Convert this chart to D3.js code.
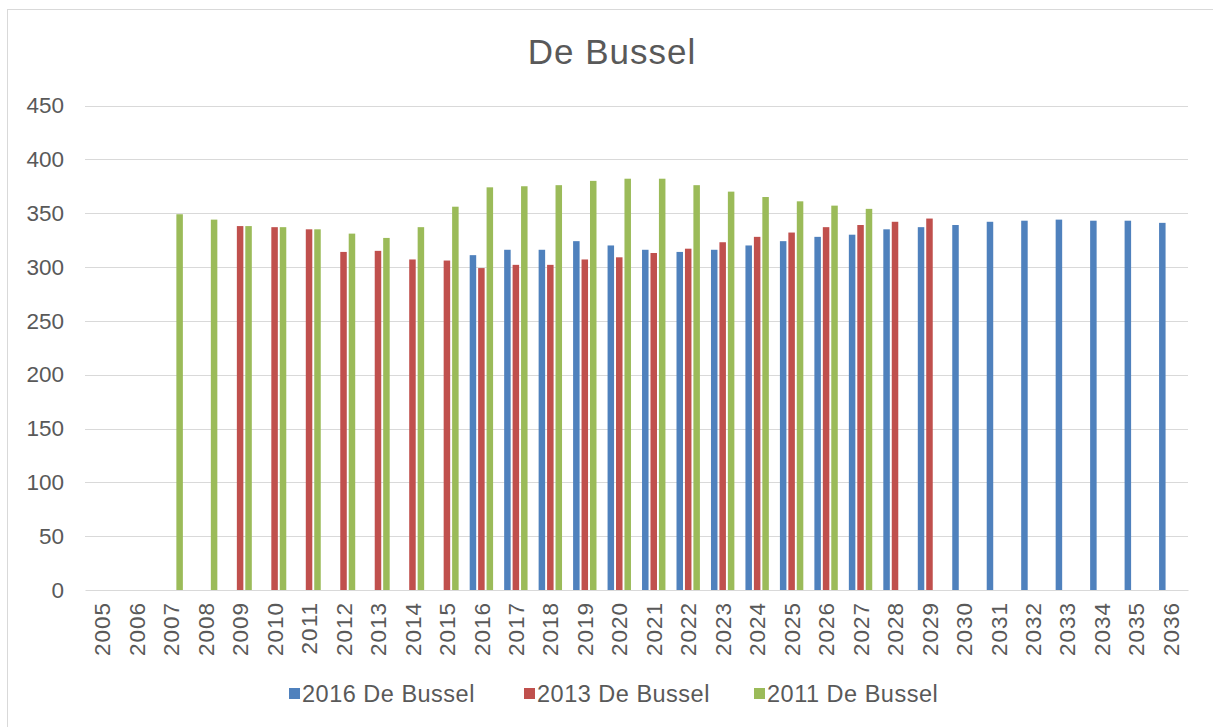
<!DOCTYPE html>
<html>
<head>
<meta charset="utf-8">
<script src="https://cdn.jsdelivr.net/npm/d3@7"></script>
<style>
  html, body { margin: 0; padding: 0; background: #fff; }
  svg { display: block; }
  text { font-family: "Liberation Sans", Arial, sans-serif; fill: #595959; }
</style>
</head>
<body>
<svg id="chart" width="1213" height="727"></svg>
<script>
const categories = ["2005","2006","2007","2008","2009","2010","2011","2012","2013","2014","2015","2016","2017","2018","2019","2020","2021","2022","2023","2024","2025","2026","2027","2028","2029","2030","2031","2032","2033","2034","2035","2036"];
const seriesNames = ["2016 De Bussel", "2013 De Bussel", "2011 De Bussel"];
const seriesColors = ["#4f81bd", "#c0504d", "#9bbb59"];
const values2016 = [null,null,null,null,null,null,null,null,null,null,null,311,316,316,324,320,316,314,316,320,324,328,330,335,337,339,342,343,344,343,343,341];
const values2013 = [null,null,null,null,338,337,335,314,315,307,306,299,302,302,307,309,313,317,323,328,332,337,339,342,345,null,null,null,null,null,null,null];
const values2011 = [null,null,349,344,338,337,335,331,327,337,356,374,375,376,380,382,382,376,370,365,361,357,354,null,null,null,null,null,null,null,null,null];
const yTicks = [0,50,100,150,200,250,300,350,400,450];
const title = "De Bussel";

const seriesValues = [values2016, values2013, values2011];
const svg = d3.select("#chart");

// outer border
svg.append("rect").attr("x", 7.5).attr("y", 9.5).attr("width", 1220).attr("height", 740)
  .attr("fill", "#fff").attr("stroke", "#d9d9d9").attr("stroke-width", 1);

const plotLeft = 85, plotRight = 1188, plotTop = 105.5, plotBottom = 590;
const x = d3.scaleBand().domain(categories).range([plotLeft, plotRight]).padding(0);
const y = d3.scaleLinear().domain([0, 450]).range([plotBottom, plotTop]);
const sub = d3.scaleBand().domain([0,1,2]).range([-11.7, 11.7]).paddingInner(0.23);

// gridlines
svg.append("g").selectAll("line").data(yTicks.filter(d => d > 0)).join("line")
  .attr("x1", plotLeft).attr("x2", plotRight)
  .attr("y1", d => Math.round(y(d)) + 0.5).attr("y2", d => Math.round(y(d)) + 0.5)
  .attr("stroke", "#d9d9d9").attr("stroke-width", 1);

// y labels
const yAxis = d3.axisLeft(y).tickValues(yTicks).tickSize(0).tickPadding(21);
const gy = svg.append("g").attr("transform", `translate(${plotLeft},0)`).call(yAxis);
gy.select(".domain").remove();
gy.selectAll("text").style("font-size", "22.5px").attr("fill", "#595959")
  .style("font-family", '"Liberation Sans", Arial, sans-serif');

// bars
seriesValues.forEach((vals, si) => {
  svg.append("g").selectAll("rect")
    .data(categories.map((c, i) => ({c, v: vals[i]})).filter(d => d.v != null))
    .join("rect")
    .attr("x", d => x(d.c) + x.bandwidth() / 2 + sub(si))
    .attr("width", sub.bandwidth())
    .attr("y", d => y(d.v))
    .attr("height", d => y(0) - y(d.v))
    .attr("fill", seriesColors[si]);
});

// x axis
const xAxis = d3.axisBottom(x).tickSize(0).tickPadding(0);
const gx = svg.append("g").attr("transform", `translate(0,${plotBottom})`).call(xAxis);
gx.select(".domain").attr("stroke", "#d9d9d9").attr("stroke-width", 1.2);
gx.selectAll("text")
  .style("font-size", "22.5px")
  .style("letter-spacing", "1px")
  .style("font-family", '"Liberation Sans", Arial, sans-serif')
  .attr("fill", "#595959")
  .attr("transform", "rotate(-90)")
  .attr("text-anchor", "end")
  .attr("x", -12)
  .attr("y", 0)
  .attr("dy", "0.36em");

// title
svg.append("text").attr("x", 612).attr("y", 64).attr("text-anchor", "middle")
  .style("font-size", "35px").style("letter-spacing", "1px").text(title);

// legend
const legendX = [289, 524, 754];
const lg = svg.append("g");
seriesNames.forEach((name, i) => {
  lg.append("rect").attr("x", legendX[i]).attr("y", 688).attr("width", 11).attr("height", 11)
    .attr("fill", seriesColors[i]);
  lg.append("text").attr("x", legendX[i] + 13).attr("y", 702)
    .style("font-size", "23.5px").style("letter-spacing", "0.5px").text(name);
});
</script>
</body>
</html>
